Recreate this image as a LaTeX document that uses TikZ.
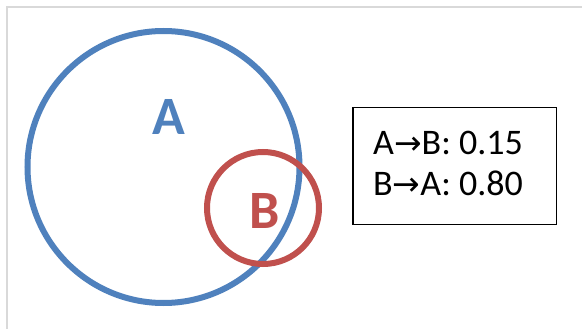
\documentclass[tikz,border=0pt]{standalone}
\usepackage{fontspec}
\setmainfont{Carlito}
\newfontfamily\arrowfont{DejaVu Sans}
\definecolor{setblue}{HTML}{4F81BD}
\definecolor{setred}{HTML}{C0504D}
\definecolor{frame}{HTML}{D9D9D9}
\newcommand{\rarr}{{\arrowfont\fontsize{33}{33}\selectfont →}}
\begin{document}
\begin{tikzpicture}[x=1pt,y=-1pt,
  setcircle/.style={circle, draw, line width=6pt, inner sep=0pt},
  setlabel/.style={font=\fontsize{54}{54}\selectfont\bfseries, inner sep=0pt, anchor=base},
  ratetext/.style={font=\fontsize{36}{36}\selectfont, inner sep=0pt, anchor=base west}]
\useasboundingbox (0,0) rectangle (582,329);
\fill[white] (0,0) rectangle (582,329);
\draw[frame, line width=2pt] (7,329) -- (7,7) -- (582,7);
\node[setcircle, draw=setblue, minimum size=272pt] (A) at (163.5,167) {};
\node[setcircle, draw=setred, minimum size=112pt] (B) at (263,208) {};
\node[setlabel, text=setblue] (la) at (169,135) {A};
\node[setlabel, text=setred] (lb) at (265,228) {B};
\node[draw, line width=1.5pt, minimum width=203.5pt, minimum height=116.5pt, inner sep=0pt] (box) at (454.5,166) {};
\node[ratetext] (r1) at (373,154.3) {A\rarr B: 0.15};
\node[ratetext] (r2) at (373,195.7) {B\rarr A: 0.80};
\end{tikzpicture}
\end{document}
